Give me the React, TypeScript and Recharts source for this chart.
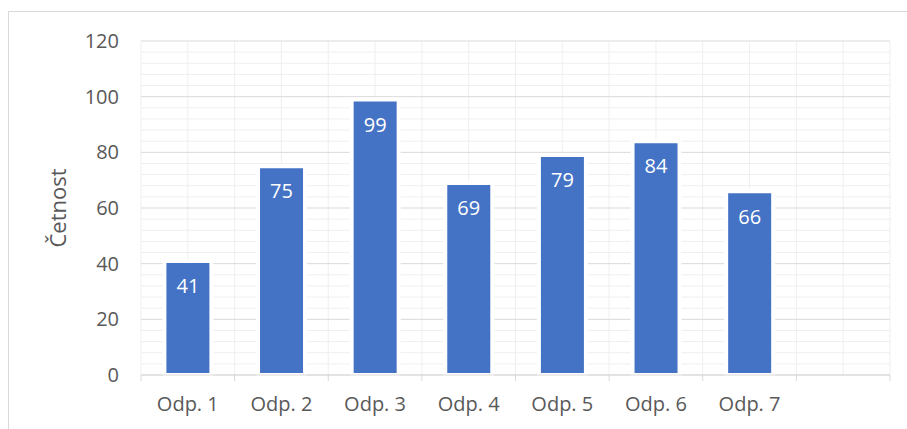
import { Bar, BarChart, CartesianGrid, LabelList, XAxis, YAxis } from "recharts";

const categories = ["Odp. 1", "Odp. 2", "Odp. 3", "Odp. 4", "Odp. 5", "Odp. 6", "Odp. 7", ""];
const counts: (number | null)[] = [41, 75, 99, 69, 79, 84, 66, null];
const majorTicks = [0, 20, 40, 60, 80, 100, 120];
const minorTicks = [
  4, 8, 12, 16, 24, 28, 32, 36, 44, 48, 52, 56, 64, 68, 72, 76,
  84, 88, 92, 96, 104, 108, 112, 116,
];

const data = categories.map((name, i) => ({ name, count: counts[i] }));

const font = "'Open Sans', sans-serif";
const textColor = "#595959";
const Y_MAX = 120;

// vertical gridlines at every category boundary and centre
function verticalLines(props: any) {
  const { offset } = props;
  const n = categories.length;
  const step = offset.width / n / 2;
  return Array.from({ length: 2 * n + 1 }, (_, i) => offset.left + i * step);
}

function minorLines(props: any) {
  const { yAxis, offset } = props;
  const scale = yAxis?.scale;
  if (typeof scale === "function") return minorTicks.map((v) => scale(v));
  return minorTicks.map((v) => offset.top + offset.height * (1 - v / Y_MAX));
}

function CategoryTick(props: any) {
  const { x, y, payload, index } = props;
  const half = payload?.offset ?? 0;
  const last = index === categories.length - 1;
  return (
    <g>
      <line x1={x - half} x2={x - half} y1={y} y2={y + 6} stroke="#d9d9d9" />
      {last && <line x1={x + half} x2={x + half} y1={y} y2={y + 6} stroke="#d9d9d9" />}
      <text x={x} y={y + 36} textAnchor="middle" fill={textColor} fontSize={20} fontFamily={font}>
        {payload.value}
      </text>
    </g>
  );
}

export default function App() {
  return (
    <div
      style={{
        position: "absolute",
        left: 0,
        top: 0,
        width: 907,
        height: 429,
        overflow: "hidden",
        background: "#fff",
        fontFamily: font,
      }}
    >
      <div
        style={{
          position: "absolute",
          left: 8,
          top: 11,
          width: 1200,
          height: 1200,
          border: "1px solid #d9d9d9",
        }}
      />
      <BarChart
        width={907}
        height={429}
        data={data}
        margin={{ top: 41, right: 17, bottom: 0, left: 0 }}
        barCategoryGap="25%"
        style={{ position: "absolute", left: 0, top: 0 }}
      >
        <XAxis
          dataKey="name"
          height={54}
          axisLine={{ stroke: "#d9d9d9" }}
          tickLine={false}
          tickSize={0}
          tickMargin={0}
          interval={0}
          tick={<CategoryTick />}
        />
        <YAxis
          domain={[0, Y_MAX]}
          ticks={majorTicks}
          interval={0}
          width={141}
          axisLine={false}
          tickLine={false}
          tickSize={0}
          tickMargin={22}
          tick={{ fill: textColor, fontSize: 20, fontFamily: font }}
          label={{
            value: "Četnost",
            angle: -90,
            position: "insideLeft",
            offset: 58,
            style: { textAnchor: "middle", fill: textColor, fontSize: 22, fontFamily: font },
          }}
        />
        <CartesianGrid
          stroke="#efefef"
          horizontalCoordinatesGenerator={minorLines}
          verticalCoordinatesGenerator={verticalLines}
        />
        <CartesianGrid vertical={false} stroke="#d9d9d9" />
        <Bar
          dataKey="count"
          fill="#4472c4"
          stroke="#ffffff"
          strokeWidth={4}
          isAnimationActive={false}
        >
          <LabelList
            dataKey="count"
            position="insideTop"
            offset={18}
            fill="#ffffff"
            fontSize={20}
            fontFamily={font}
          />
        </Bar>
      </BarChart>
    </div>
  );
}
